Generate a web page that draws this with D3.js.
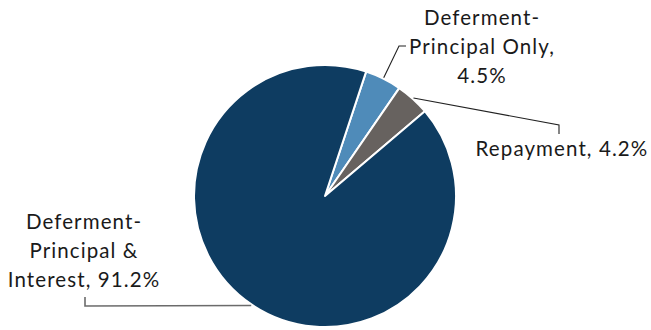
<!DOCTYPE html>
<html>
<head>
<meta charset="utf-8">
<script src="https://cdn.jsdelivr.net/npm/d3@7"></script>
<style>
  html, body { margin: 0; padding: 0; background: #fff; }
  svg { display: block; }
  text { font-family: Lato, "Open Sans", sans-serif; fill: #1a1a1a; }
</style>
</head>
<body>
<svg id="chart" width="651" height="330"></svg>
<script>
// Loan status shares (%)
const categories = ["Deferment-Principal Only", "Repayment", "Deferment-Principal & Interest"];
const values = [4.5, 4.2, 91.2];
const labelLines = [
  ["Deferment-", "Principal Only,", "4.5%"],
  ["Repayment, 4.2%"],
  ["Deferment-", "Principal &", "Interest, 91.2%"]
];
const colors = ["#4F8BB9", "#67625F", "#0E3C61"];

const width = 651, height = 330;
const cx = 325, cy = 196, radius = 131;
const startDeg = 18.3;

// label anchor (text centre x, first baseline y) and leader elbows
const labelLayout = [
  { x: 482, y: 25, elbow: [[399, 46], [406, 46]] },
  { x: 562, y: 156, elbow: [[559, 125], [559, 134]] },
  { x: 84, y: 229, elbow: [[85, 306], [85, 297]] }
];
const lineGap = 29;

const svg = d3.select("#chart");
const g = svg.append("g").attr("transform", `translate(${cx},${cy})`);

const pie = d3.pie()
  .value(d => d.value)
  .sort(null)
  .startAngle(startDeg * Math.PI / 180)
  .endAngle(startDeg * Math.PI / 180 + 2 * Math.PI);

const data = categories.map((c, i) => ({ name: c, value: values[i], color: colors[i], lines: labelLines[i], layout: labelLayout[i] }));
const arcs = pie(data);

const arc = d3.arc().innerRadius(0).outerRadius(radius);

g.selectAll("path.slice")
  .data(arcs)
  .join("path")
  .attr("class", "slice")
  .attr("d", arc)
  .attr("fill", d => d.data.color)
  .attr("stroke", "#fff")
  .attr("stroke-width", 2)
  .attr("stroke-linejoin", "round");

// leader lines from slice edge to labels
const edgeArc = d3.arc().innerRadius(radius + 1).outerRadius(radius + 1);
svg.selectAll("path.leader")
  .data(arcs)
  .join("path")
  .attr("class", "leader")
  .attr("fill", "none")
  .attr("stroke", (d, i) => i === 2 ? "#6b6b6b" : "#222")
  .attr("stroke-width", (d, i) => i === 2 ? 1.6 : 1.1)
  .attr("d", d => {
    const [px, py] = edgeArc.centroid(d);
    const pts = [[px + cx, py + cy], ...d.data.layout.elbow];
    return d3.line()(pts);
  });

// labels
const labels = svg.selectAll("text.label")
  .data(arcs)
  .join("text")
  .attr("class", "label")
  .attr("text-anchor", "middle")
  .attr("font-size", 20.5)
  .attr("letter-spacing", 1.1);

labels.selectAll("tspan")
  .data(d => d.data.lines.map((t, j) => ({ t, j, L: d.data.layout })))
  .join("tspan")
  .attr("x", d => d.L.x)
  .attr("y", d => d.L.y + d.j * lineGap)
  .text(d => d.t);
</script>
</body>
</html>
